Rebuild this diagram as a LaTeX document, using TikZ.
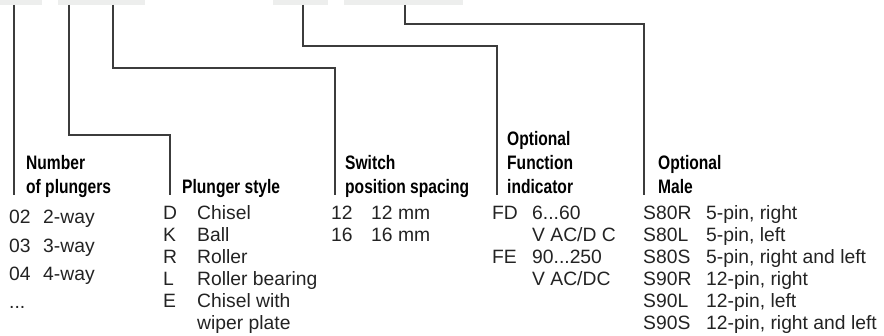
\documentclass[tikz,border=0pt]{standalone}
\usepackage{fontspec}
\setmainfont{Liberation Sans}
\newfontfamily\headfont[FakeStretch=0.8]{Liberation Sans Bold}
\newcommand\tightlines{\lineskiplimit=-20pt\relax}
\definecolor{barfill}{RGB}{237,238,237}
\definecolor{leadcol}{RGB}{60,60,60}
\definecolor{entrycol}{RGB}{35,35,35}
\tikzset{
  bar/.style={fill=barfill, draw=none},
  lead/.style={draw=leadcol, line width=1.1pt},
  hdr/.style={anchor=base west, inner sep=0pt, align=left,
    font=\headfont\fontsize{19.5}{24}\selectfont},
  entry/.style={anchor=base west, inner sep=0pt, align=left, text=entrycol,
    font=\fontsize{19.3}{22}\selectfont\tightlines},
  wide/.style={font=\fontsize{19.3}{28.3}\selectfont},
}
\begin{document}
\begin{tikzpicture}[x=1pt,y=-1pt]
\useasboundingbox (0,0) rectangle (884,336);
% grey code fields along the top
\fill[bar] (0,0) rectangle (42,5);
\fill[bar] (58,0) rectangle (145,5);
\fill[bar] (273,0) rectangle (328,5);
\fill[bar] (344,0) rectangle (463,5);
% leader lines
\coordinate (top1) at (14,5);   \coordinate (end1) at (14,195);
\coordinate (top2) at (69,5);   \coordinate (k2) at (170,135);  \coordinate (end2) at (170,195);
\coordinate (top3) at (113,5);  \coordinate (k3) at (335,68);   \coordinate (end3) at (335,195);
\coordinate (top4) at (303,5);  \coordinate (k4) at (497,46);   \coordinate (end4) at (497,195);
\coordinate (top5) at (405,5);  \coordinate (k5) at (644,24);   \coordinate (end5) at (644,195);
\draw[lead] (top1) -- (end1);
\draw[lead] (top2) |- (k2) -- (end2);
\draw[lead] (top3) |- (k3) -- (end3);
\draw[lead] (top4) |- (k4) -- (end4);
\draw[lead] (top5) |- (k5) -- (end5);
% headings (placed at the baseline of their last line)
\node[hdr] (plungers) at (26,194) {Number\\of plungers};
\node[hdr] (style) at (182,194) {Plunger style};
\node[hdr] (spacing) at (345,194) {Switch\\position spacing};
\node[hdr] (indicator) at (507,194) {Optional\\Function\\indicator};
\node[hdr] (male) at (658,194) {Optional\\Male};
% number of plungers
\node[entry, wide] (numcode) at (9,308.9) {02\\03\\04\\...};
\node[entry, wide] (numtext) at (43,280.6) {2-way\\3-way\\4-way};
% plunger style
\node[entry] (stycode) at (163,308) {D\\K\\R\\L\\E};
\node[entry] (stytext) at (197,330) {Chisel\\Ball\\Roller\\Roller bearing\\Chisel with\\wiper plate};
% switch position spacing
\node[entry] (spccode) at (331,242) {12\\16};
\node[entry] (spctext) at (371,242) {12 mm\\16 mm};
% function indicator
\node[entry] (fd) at (492,220) {FD};
\node[entry] (fe) at (492,264) {FE};
\node[entry] (fntext) at (532,286) {6...60\\V AC/D C\\90...250\\V AC/DC};
% male connector
\node[entry] (malecode) at (643,330) {S80R\\S80L\\S80S\\S90R\\S90L\\S90S};
\node[entry] (maletext) at (706,330) {5-pin, right\\5-pin, left\\5-pin, right and left\\12-pin, right\\12-pin, left\\12-pin, right and left};
\end{tikzpicture}
\end{document}
